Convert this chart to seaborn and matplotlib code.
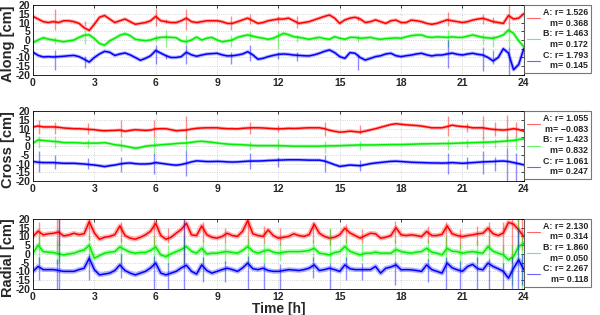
import numpy as np
import matplotlib
matplotlib.use("Agg")
import matplotlib.pyplot as plt
import seaborn as sns

# ----------------------------
# 1. Data (15-min samples)
# ----------------------------
hours = np.arange(0, 24.01, 0.25)

along_a = [13.5, 12, 10.5, 10, 10.5, 10, 11, 11, 10.5, 9.5, 7, 5.5, 9, 13, 14, 12, 10, 11, 12, 10.5,
           9, 9.5, 10, 11, 13.5, 11, 10.5, 10, 10, 11, 12.5, 10.5, 10, 10.5, 11, 11, 11, 10.5, 9.5, 9.5,
           10.5, 11.5, 12.5, 11, 9.5, 10, 11, 11.5, 12, 12, 12.5, 11, 9.5, 10, 10.5, 11.5, 12.5, 13.5, 14.3, 12.5,
           9.5, 11.5, 12.5, 13, 12, 10, 10.5, 11.5, 10.5, 9.5, 11, 11.4, 10, 10, 11.4, 11, 10.5, 9.5, 9, 9.5,
           10.5, 11.5, 11, 10.5, 10, 10.5, 11.4, 12, 12.4, 11.5, 10.5, 10, 9.5, 14, 12, 12.5, 15]
along_b = [-1.5, 0, 1.3, 0.5, 0, -0.5, -1, -0.5, 0, 1.5, 2.7, 3, 0.8, -2, -3, -0.5, 1, 2.7, 3.6, 2.5,
           0.4, 0, -0.4, 0, 1, 1.5, 1.7, 1.5, 1.3, -0.5, -1, 0, 1.7, 0, 1, 1.5, 0, -1, -0.5, 0,
           1.5, 2.3, 2.9, 2.2, 1.5, 1, 0.4, 1, 2.3, 3.8, 3, 1.9, 1.5, 1, 0.4, 1, 1.5, 0.8, 0.4, 1.9,
           1, 0.4, 1.5, 1.5, 1, 1.2, 1.5, 0.8, 0.4, 0.8, 1, 1.2, 1, 1.8, 2.5, 2.8, 2.9, 1.8, 1.5, 1.8,
           1.7, 1.5, 1.8, 1.5, 1.5, 2.2, 2.9, 2.2, 1.5, 1.2, 1, 1.8, 2.9, 5.7, 3.8, -0.5, -3.8]
along_c = [-7, -8.8, -9.7, -9.5, -9.7, -9.5, -9.3, -9, -8.8, -9.5, -11, -12.6, -10, -8, -6.5, -7, -8.8, -8, -7.4, -8.5,
           -10, -11.6, -10.5, -9, -6, -7.5, -9, -10, -10, -9.5, -7, -8.5, -9.3, -8.6, -8, -7.8, -7.6, -8.5, -9.1, -9,
           -8.6, -8, -6.7, -8.5, -11, -10.5, -9.5, -8.8, -8.2, -8, -8.2, -8.6, -8.8, -9, -9.1, -8.5, -7.6, -6.5, -5.7, -7.2,
           -9.5, -10.5, -7.2, -7.6, -10, -11.5, -10.5, -9.5, -9, -8, -7.6, -9, -9.5, -9, -8.6, -8, -7.6, -8.5, -9.1, -8.6,
           -8.6, -8, -7.5, -8.2, -8.6, -8, -7.6, -8.2, -8.6, -10, -12, -10, -5, -7.5, -17, -14, -5]

cross_a = [11, 11.5, 11, 11, 11, 10.8, 10.4, 10.2, 10, 10, 9.8, 9.6, 9.4, 9, 8.8, 8.9, 9, 9.2, 8.5, 9,
           9.4, 9.2, 9, 9.2, 9.9, 10, 10, 9.4, 8.8, 9, 9.2, 9.8, 10.2, 10.4, 10.5, 10.5, 10.5, 10.2, 10, 10,
           9.9, 10.2, 10.4, 10.5, 10.5, 10.4, 10.2, 10, 9.9, 10, 10.2, 10.1, 10.2, 10.4, 10.5, 10.5, 10.5, 10, 9.1, 8.5,
           8, 8.2, 8.6, 8.3, 8, 8.6, 9.3, 10, 10.8, 11.6, 12.4, 12.8, 12.5, 12.2, 12, 11.8, 11.5, 11, 10.5, 10.5,
           10.5, 11.2, 12, 11.5, 11.2, 11, 10.5, 10.5, 10.5, 10, 9.6, 9.4, 9.2, 9.5, 10, 9.5, 8.6]
cross_b = [1.7, 3.6, 3.2, 3, 2.7, 2.5, 2, 2, 2, 1.9, 1.7, 1.8, 1.7, 1.8, 2, 1.5, 0.8, 0.5, 0, -0.6,
           -1.2, -0.8, 0, 0.3, 0.5, 0.8, 1, 1.2, 1.5, 1.7, 1.8, 2.2, 2.6, 2.8, 2.5, 2.2, 1.8, 1.5, 1.2, 1,
           0.9, 0.8, 0.6, 0.4, 0.3, 0.3, 0.3, 0.3, 0.3, 0.2, 0.1, 0, 0, 0, 0, 0, 0, 0.1, 0.2, 0.2,
           0.3, 0.4, 0.5, 0.6, 0.7, 0.7, 0.7, 0.7, 0.8, 0.8, 0.9, 0.9, 0.9, 1, 1.1, 1.2, 1.3, 1.3, 1.4, 1.4,
           1.5, 1.5, 1.6, 1.7, 1.8, 1.9, 2, 2.1, 2.2, 2.3, 2.4, 2.6, 2.8, 3, 3.3, 3.8, 4.2]
cross_c = [-8.8, -9.2, -9.4, -9.4, -9.4, -9.6, -9.8, -9.8, -9.8, -10, -10.2, -10.5, -10.8, -11.2, -11.7, -11.2, -10.8, -10.2, -9.8, -9.6,
           -10, -10.2, -10.2, -10, -9.4, -9.8, -10.2, -10.6, -10.9, -10.5, -9.8, -9, -8.4, -8.6, -8.8, -8.8, -8.7, -8.8, -9, -9.1,
           -9, -8.8, -8.6, -8.5, -8.5, -8.4, -8.2, -8.1, -8, -7.9, -7.8, -7.8, -7.8, -7.9, -8, -8, -8, -8.5, -9.5, -10.6,
           -11.6, -11.2, -10.8, -11, -11.2, -10.6, -10, -9.6, -9.3, -9, -8.7, -8.6, -8.8, -9, -9.2, -9.3, -9.4, -9.5, -9.6, -9.6,
           -9.7, -9.6, -9.4, -9.6, -9.8, -9.6, -9.4, -9.2, -9, -8.9, -8.8, -8.6, -8.5, -8.8, -9.4, -10, -10.7]

radial_a = [10, 13, 10.9, 11.5, 11.8, 12.5, 10.3, 10.8, 11.8, 11, 11.5, 18.5, 12, 8.4, 9.5, 10, 11, 16, 10.5, 9,
            8.4, 9.5, 10.9, 13, 17.5, 10.5, 8.4, 9.5, 11.8, 14, 17.5, 10.9, 10.5, 16, 11, 9.5, 9, 10, 11.8, 10.5,
            10, 13, 19, 11.5, 10.5, 10, 13.7, 10.5, 9, 9.5, 10, 11.5, 10.5, 10, 11, 17, 11.8, 10, 9, 9.5,
            11, 14.7, 12, 10.5, 9, 10.5, 11.8, 11.5, 9, 9.5, 10.5, 15, 10.9, 10.5, 10.9, 10.5, 9.9, 12.8, 10.5, 10.5,
            11.2, 16, 11.5, 10.5, 9.9, 10.5, 10.9, 11.5, 11.8, 14.7, 11.5, 10.5, 12, 18, 17, 13.7, 9.9]
radial_b = [0.4, 5, 1.3, 1, 0.8, 0, -0.6, 0, 0.4, 1.5, 2.3, 5, -2.5, -1, 0.4, 1, 1.3, 4, 2.3, 1,
            0.4, 0.8, 0.8, 2, 4, -0.6, -1.5, 0, 1.3, 2.5, 4.2, 1.5, 0.4, 3.2, 0, 0.4, 0.4, 1, 1.3, 0.8,
            0.4, 2, 4.2, 1.5, 0.4, 1.5, 2.3, 1, 0.4, 1, 1.3, 1.3, 1.3, 1.5, 2, 3.2, 0.4, 0, -0.6, 0.8,
            1.3, 4.2, 1.5, 0.4, -0.6, 0.4, 0.4, 1, 0.4, 0.4, 0.4, 2.5, 1.3, 0.8, 0.4, 1, 1.3, 3.2, 1, 0.4,
            -0.6, 3.2, 1.5, 1.3, 0.4, 1, 1.3, 0.8, 0.4, 4.2, 1.5, 0.4, -0.6, -3.4, -1.5, 4.2, 6]
radial_c = [-10, -7.2, -9, -9, -9, -9.5, -10, -10, -10, -9, -8.2, -2.5, -9, -12, -11.5, -11, -9.5, -6.3, -9.5, -11,
            -12, -11, -10, -8, -5.3, -11, -12, -11, -10, -8, -6.5, -10, -11.5, -6.3, -9.5, -11, -10, -9, -8.2, -9,
            -10, -8, -5.3, -8.5, -9, -8.2, -9.5, -10, -10, -9.5, -9, -9.2, -9.5, -9, -8.2, -6.3, -9.5, -9, -8.2, -9,
            -10, -6.3, -8.5, -9, -9, -9, -9, -7.2, -11, -8.2, -7.5, -6.3, -9.1, -9, -9.1, -9.5, -10, -6.3, -9, -10,
            -11, -5.3, -8, -9.1, -10, -7.2, -6, -8.5, -9.1, -5.3, -7.2, -8.5, -10, -13.9, -8.2, -3.4, -9]

# short bursts (time, low, high) seen as faint vertical spikes
along_spk_t = [1.1, 2.55, 6.0, 6.5, 7.5, 9.7, 10.6, 12.0, 12.9, 15.9, 20.3, 22.0, 22.5, 23.3]
along_spk_a = [(6, 18), (8, 11), (8, 18), (10, 12), (6, 18), (6, 14), (9, 15), (10, 14), (7, 14), (11, 14),
               (8, 16), (9, 15), (10, 13), (5, 20)]
along_spk_b = [(-2, 2), (-2, 6), (-1, 3), (-4, 6), (-3, 3), (-4, 3), (0, 5), (-5, 5), (-1, 3), (-1, 3),
               (-4, 6), (-3, 4), (-4, 3), (-4, 6)]
along_spk_c = [(-17, -6), (-16, -9), (-14, -3), (-11, -8), (-14, -3), (-14, -7), (-12, -3), (-11, -7), (-12, -7),
               (-17, -8), (-16, 0), (-18, -4), (-14, -6), (-20, -4)]

cross_spk_t = [0.3, 1.1, 2.7, 4.3, 5.9, 7.5, 10.6, 12.0, 14.3, 16.0, 20.3, 21.2, 22.0, 22.6, 23.2, 23.6]
cross_spk_a = [(7, 15), (7, 14), (7, 13), (5, 15), (5, 15), (4, 17), (7, 14), (8, 12), (6, 14), (7, 12),
               (6, 17), (8, 13), (4, 17), (6, 14), (3, 18), (5, 14)]
cross_spk_b = [(-1, 6), (-1, 6), (-1, 4), (-3, 4), (-4, 5), (-2, 6), (-2, 3), (-2, 4), (-4, 3), (-2, 3),
               (-2, 4), (-1, 4), (-1, 5), (-1, 4), (-1, 6), (-2, 6)]
cross_spk_c = [(-15, -3), (-13, -5), (-13, -7), (-15, -6), (-16, -4), (-17, -2), (-13, -4), (-12, -6), (-15, -5),
               (-14, -8), (-16, -4), (-13, -6), (-16, -3), (-14, -6), (-20, -1), (-20, -4)]

radial_spk_t = [0.3, 1.15, 1.25, 2.75, 4.3, 5.9, 6.6, 7.4, 8.3, 9.4, 10.5, 11.3, 12.1, 13.7, 14.5, 15.3, 16.1,
                17.7, 19.3, 20.2, 20.9, 21.7, 22.3, 23.0, 23.4, 23.7, 23.9]
radial_spk_a = [(5, 18), (0, 20), (5, 20), (8, 20), (7, 18), (5, 20), (6, 15), (-5, 20), (7, 18), (6, 15), (5, 20),
                (6, 16), (5, 15), (6, 18), (5, 14), (6, 17), (6, 14), (6, 19), (6, 16), (4, 18), (3, 14), (5, 16),
                (4, 18), (0, 18), (-5, 20), (5, 20), (2, 20)]
radial_spk_b = [(-5, 10), (-6, 8), (-5, 6), (-4, 10), (-5, 9), (-6, 10), (-6, 5), (-6, 10), (-5, 8), (-5, 6), (-5, 9),
                (-5, 7), (-4, 6), (-4, 8), (-5, 15), (-4, 9), (-4, 6), (-4, 8), (-4, 8), (-6, 10), (-10, 6), (-5, 8),
                (-4, 10), (-8, 5), (-18, 5), (-5, 20), (-20, 10)]
radial_spk_c = [(-15, -2), (-20, -3), (-20, 20), (-15, 0), (-14, 0), (-20, -1), (-20, -5), (-20, 20), (-16, -2),
                (-16, -4), (-20, -1), (-20, -5), (-20, -6), (-14, -2), (-20, -5), (-15, -2), (-15, -5), (-18, -4),
                (-16, -3), (-20, -2), (-20, -4), (-20, -2), (-20, -3), (-20, -5), (-20, -2), (-20, 15), (-18, 0)]

panel_names = ['Along [cm]', 'Cross [cm]', 'Radial [cm]']
legend_r = [['1.526', '1.463', '1.793'], ['1.055', '1.423', '1.061'], ['2.130', '1.860', '2.267']]
legend_m = [['0.368', '0.172', '0.145'], ['\u22120.083', '0.832', '0.247'], ['0.314', '0.050', '0.118']]
stations = ['A', 'B', 'C']
colors = ['#ff0000', '#00ee00', '#0000ff']

panels = [
    ([along_a, along_b, along_c], along_spk_t, [along_spk_a, along_spk_b, along_spk_c], 2.6),
    ([cross_a, cross_b, cross_c], cross_spk_t, [cross_spk_a, cross_spk_b, cross_spk_c], 2.4),
    ([radial_a, radial_b, radial_c], radial_spk_t, [radial_spk_a, radial_spk_b, radial_spk_c], 3.4),
]

# ----------------------------
# 2. Plot
# ----------------------------
sns.set_style("white")
plt.rcParams['font.family'] = ['Liberation Sans', 'DejaVu Sans']
plt.rcParams['font.weight'] = 'bold'
plt.rcParams['axes.unicode_minus'] = False
plt.rcParams['xtick.direction'] = 'in'
plt.rcParams['ytick.direction'] = 'in'

fig = plt.figure(figsize=(6, 3.15), dpi=100)
bottoms = [0.762, 0.425, 0.083]

for i, (series, spk_t, spks, band) in enumerate(panels):
    ax = fig.add_axes([0.055, bottoms[i], 0.818, 0.222])
    handles = []
    for j in range(3):
        # faint wide band gives the noisy look, thin line on top
        sns.lineplot(x=hours, y=series[j], ax=ax, color=colors[j], lw=band, alpha=0.3, legend=False)
        lo = [s[0] for s in spks[j]]
        hi = [s[1] for s in spks[j]]
        ax.vlines(spk_t, lo, hi, color=colors[j], lw=1.0, alpha=0.45)
        sns.lineplot(x=hours, y=series[j], ax=ax, color=colors[j], lw=1.1, legend=False)
        handles.append(ax.lines[-1])

    ax.set_xlim(0, 24)
    ax.set_ylim(-20, 20)
    ax.set_xticks(range(0, 25, 3))
    ax.set_yticks(range(-20, 21, 5))
    ax.tick_params(labelsize=7.5, length=2.5, width=0.6, top=True, right=True, pad=2)
    for lab in ax.get_xticklabels() + ax.get_yticklabels():
        lab.set_fontweight('bold')
    ax.grid(True, ls=':', lw=0.6, color='#c8c8c8')
    for sp in ax.spines.values():
        sp.set_linewidth(0.6)
        sp.set_color('black')
    ax.set_ylabel(panel_names[i], fontsize=10.5, fontweight='bold')
    ax.yaxis.set_label_coords(-0.037, 0.45)
    ax.set_xlabel('')

    labels = [f'{stations[j]}: r= {legend_r[i][j]}\nm= {legend_m[i][j]}' for j in range(3)]
    leg = ax.legend(handles, labels, loc='upper left', bbox_to_anchor=(1.0, 1.0), borderaxespad=0,
                    fontsize=6.4, handlelength=1.5, handletextpad=0.3, labelspacing=0.2,
                    borderpad=0.35, frameon=True, fancybox=False, edgecolor='#555555')
    leg.get_frame().set_linewidth(0.8)
    for t in leg.get_texts():
        t.set_multialignment('right')
        t.set_fontweight('bold')
    for h in leg.legend_handles:
        h.set_linewidth(0.8)
        h.set_alpha(0.6)

    if i == 2:
        ax.set_xlabel('Time [h]', fontsize=10, fontweight='bold', labelpad=0)

fig.savefig('out.png', dpi=100)
